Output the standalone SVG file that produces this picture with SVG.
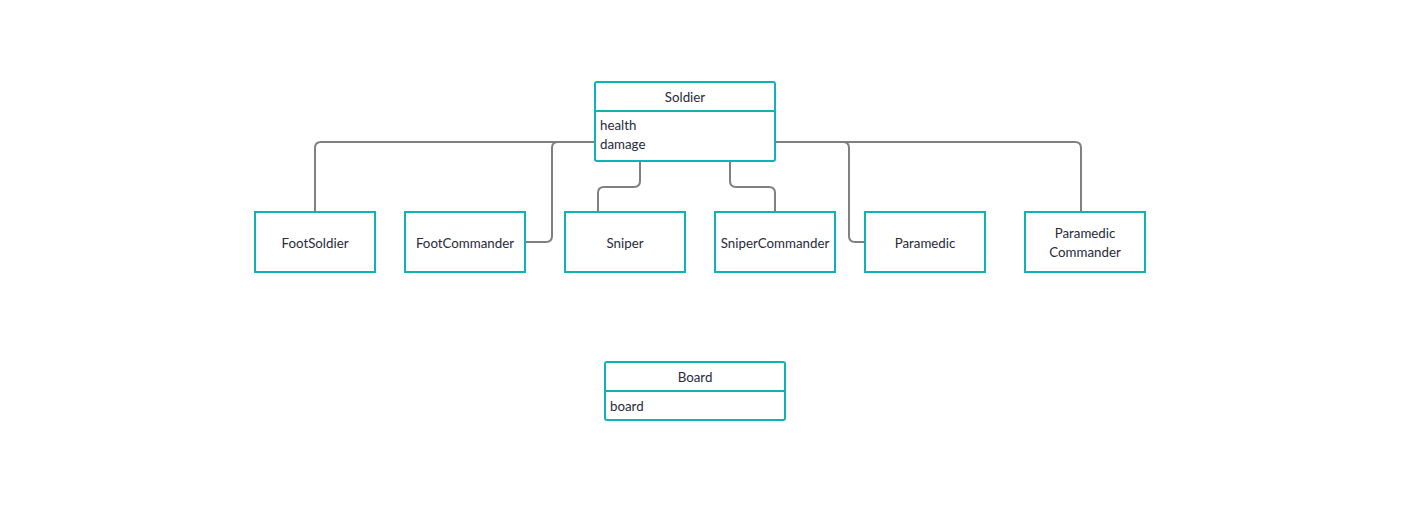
<svg xmlns="http://www.w3.org/2000/svg" width="1414" height="515" viewBox="0 0 1414 515">
<style>
.box{fill:#fff;stroke:#0fb3b3;stroke-width:2}
.div{stroke:#0fb3b3;stroke-width:2}
.t{font-family:Lato,"Liberation Sans",sans-serif;font-size:13.3px;fill:#282a3a}
.c{text-anchor:middle}
.e{fill:none;stroke:#808080;stroke-width:2}
</style>
<rect width="1414" height="515" fill="#fff"/>
<g id="connectors">
<path class="e" d="M315,212 V148 Q315,142 321,142 H595"/>
<path class="e" d="M525,242 H546 Q552,242 552,236 V148 Q552,142 558,142 H595"/>
<path class="e" d="M598,212 V193 Q598,187 604,187 H634 Q640,187 640,181 V161"/>
<path class="e" d="M775,212 V193 Q775,187 769,187 H736 Q730,187 730,181 V161"/>
<path class="e" d="M865,242 H855 Q849,242 849,236 V148 Q849,142 843,142 H775"/>
<path class="e" d="M1081,212 V148 Q1081,142 1075,142 H775"/>
</g>
<g id="soldier">
<rect class="box" x="595" y="82" width="180" height="79" rx="2"/>
<line class="div" x1="595" y1="111" x2="775" y2="111"/>
<text class="t c" x="685" y="102">Soldier</text>
<text class="t" x="600" y="130">health</text>
<text class="t" x="600" y="149">damage</text>
</g>
<g id="footsoldier">
<rect class="box" x="255" y="212" width="120" height="60"/>
<text class="t c" x="315" y="248">FootSoldier</text>
</g>
<g id="footcommander">
<rect class="box" x="405" y="212" width="120" height="60"/>
<text class="t c" x="465" y="248">FootCommander</text>
</g>
<g id="sniper">
<rect class="box" x="565" y="212" width="120" height="60"/>
<text class="t c" x="625" y="248">Sniper</text>
</g>
<g id="snipercommander">
<rect class="box" x="715" y="212" width="120" height="60"/>
<text class="t c" x="775" y="248">SniperCommander</text>
</g>
<g id="paramedic">
<rect class="box" x="865" y="212" width="120" height="60"/>
<text class="t c" x="925" y="248">Paramedic</text>
</g>
<g id="paramediccommander">
<rect class="box" x="1025" y="212" width="120" height="60"/>
<text class="t c" x="1085" y="238">Paramedic</text>
<text class="t c" x="1085" y="257">Commander</text>
</g>
<g id="board">
<rect class="box" x="605" y="362" width="180" height="58" rx="2"/>
<line class="div" x1="605" y1="391" x2="785" y2="391"/>
<text class="t c" x="695" y="382">Board</text>
<text class="t" x="610" y="411">board</text>
</g>
</svg>
